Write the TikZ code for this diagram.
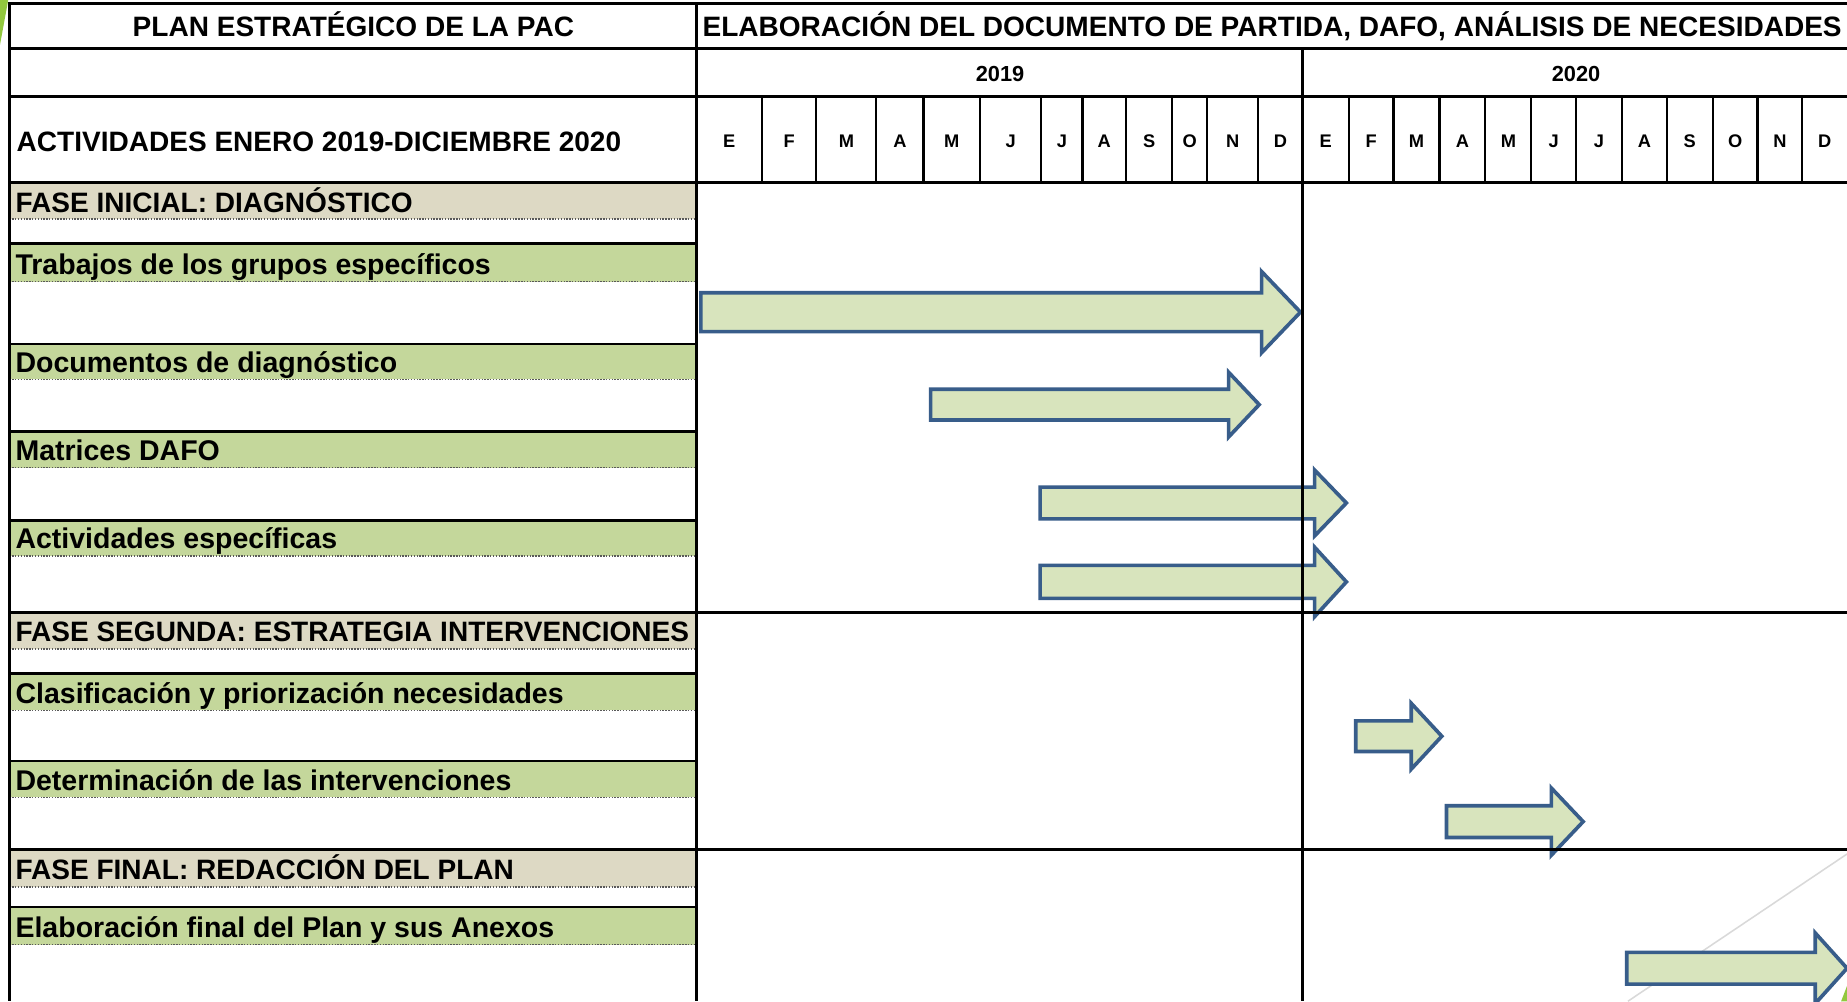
\documentclass[tikz,border=0pt]{standalone}
\usepackage{fontspec}
\setmainfont{Liberation Sans}
\definecolor{beigeband}{RGB}{221,217,196}
\definecolor{greenband}{RGB}{196,215,155}
\definecolor{arrfill}{RGB}{216,228,189}
\definecolor{arrdraw}{RGB}{56,93,138}
\definecolor{limeg}{RGB}{146,200,62}
\tikzset{
  thick line/.style={line width=2.4pt, black},
  month line/.style={line width=1.8pt, black},
  dotline/.style={line width=1.2pt, gray!70!black, dash pattern=on 1.2pt off 1.2pt},
  hdr/.style={font=\fontsize{23.8}{28}\selectfont\bfseries, inner sep=0pt},
  lbl/.style={font=\fontsize{24.2}{28}\selectfont\bfseries, inner sep=0pt},
  yr/.style={font=\fontsize{18.5}{22}\selectfont\bfseries, inner sep=0pt},
  mon/.style={font=\fontsize{15.5}{19}\selectfont\bfseries, inner sep=0pt},
  arrowbar/.style={fill=arrfill, draw=arrdraw, line width=3.1pt, line join=miter},
}
\newcommand\garrow[7]{%
  \draw[arrowbar] (#1,#4-#5) -- (#2,#4-#5) -- (#2,#4-#6) -- (#3,#4) -- (#2,#4+#6) -- (#2,#4+#5) -- (#1,#4+#5) -- cycle;
  \coordinate (#7) at (#3,#4);}
\begin{document}
\begin{tikzpicture}[x=1pt,y=-1pt]
\useasboundingbox (0,0) rectangle (1568,850);
\fill[white] (0,0) rectangle (1568,850);
% decorations
\fill[limeg] (0,0) -- (7,0) -- (0,38) -- cycle;
\fill[limeg] (1568,837) -- (1568,850) -- (1563,850) -- cycle;
\draw[gray!30, line width=1.3pt] (1568,725) -- (1382,850);
% bands
\foreach \t/\b/\c in {155/186/beigeband,207/239/greenband,292/322/greenband,366/397/greenband,442/472/greenband,520/551/beigeband,572/603/greenband,646/677/greenband,721/753/beigeband,770/802/greenband}{
  \fill[\c] (8,\t) rectangle (591,\b);
  \draw[dotline] (8,\b) -- (591,\b);
}
% arrows
\garrow{595}{1071}{1104}{265}{16.5}{34.5}{a1}
\garrow{790}{1043}{1069}{343.5}{13}{27.5}{a2}
\garrow{883}{1116}{1143}{427}{13.5}{28}{a3}
\garrow{883}{1116}{1143}{494}{14}{29.5}{a4}
\garrow{1151}{1198}{1224}{625}{13}{28}{a5}
\garrow{1228}{1317}{1344}{697.5}{13.5}{28.5}{a6}
\garrow{1381}{1541}{1568}{822}{13.5}{30}{a7}
% grid lines
\foreach \y in {3,41,82,155,520,721}{
  \draw[thick line] (8,\y) -- (1568,\y);
}
\foreach \y in {207,292,366,442,572,646,770}{
  \draw[thick line] (8,\y) -- (591,\y);
}
\draw[thick line] (8,2) -- (8,850);
\draw[thick line] (591,2) -- (591,850);
\draw[thick line] (1106,41) -- (1106,850);
\foreach \x in {647,693,744,784,832,884,919,956,995,1025,1068,1145,1183,1222,1261,1300,1338,1377,1415,1454,1492,1530}{
  \draw[month line] (\x,82) -- (\x,155);
}
% header texts
\node[hdr, anchor=base] (title) at (300,31) {PLAN ESTRATÉGICO DE LA PAC};
\node[hdr, anchor=base] (head) at (1080,31) {ELABORACIÓN DEL DOCUMENTO DE PARTIDA, DAFO, ANÁLISIS DE NECESIDADES};
\node[yr, anchor=base] (y2019) at (849,69) {2019};
\node[yr, anchor=base] (y2020) at (1338,69) {2020};
\node[hdr, anchor=base west] (act) at (14,129) {ACTIVIDADES ENERO 2019-DICIEMBRE 2020};
\foreach \x/\m [count=\i] in {619/E,670/F,718.5/M,764/A,808/M,858/J,901.5/J,937.5/A,975.5/S,1010/O,1046.5/N,1087/D,1125.5/E,1164/F,1202.5/M,1241.5/A,1280.5/M,1319/J,1357.5/J,1396/A,1434.5/S,1473/O,1511/N,1549/D}{
  \node[mon, anchor=base] (m\i) at (\x,125) {\m};
}
% row labels
\node[hdr, anchor=base west] (f1) at (13,180) {FASE INICIAL: DIAGNÓSTICO};
\node[lbl, anchor=base west] (r1) at (13,233) {Trabajos de los grupos específicos};
\node[lbl, anchor=base west] (r2) at (13,316) {Documentos de diagnóstico};
\node[lbl, anchor=base west] (r3) at (13,391) {Matrices DAFO};
\node[lbl, anchor=base west] (r4) at (13,466) {Actividades específicas};
\node[hdr, anchor=base west] (f2) at (13,545) {FASE SEGUNDA: ESTRATEGIA INTERVENCIONES};
\node[lbl, anchor=base west] (r5) at (13,597) {Clasificación y priorización necesidades};
\node[lbl, anchor=base west] (r6) at (13,671) {Determinación de las intervenciones};
\node[hdr, anchor=base west] (f3) at (13,747) {FASE FINAL: REDACCIÓN DEL PLAN};
\node[lbl, anchor=base west] (r7) at (13,796) {Elaboración final del Plan y sus Anexos};
\end{tikzpicture}
\end{document}
